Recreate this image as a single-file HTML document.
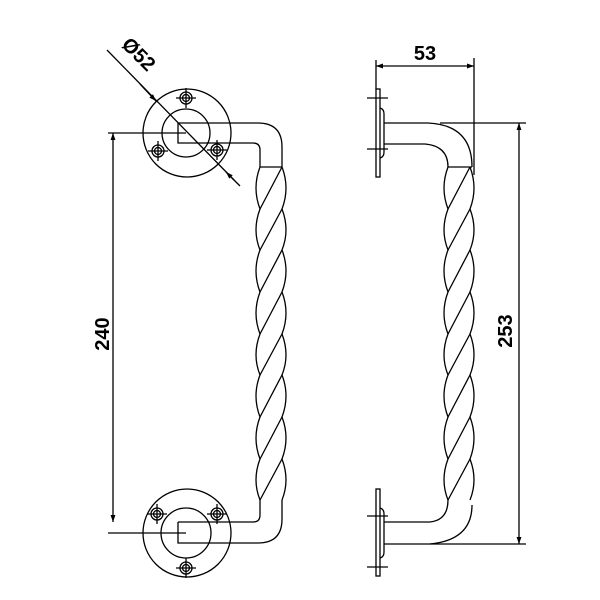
<!DOCTYPE html>
<html><head><style>body{margin:0;background:#fff}svg{display:block}</style></head>
<body>
<svg width="600" height="600" viewBox="0 0 600 600" xmlns="http://www.w3.org/2000/svg" fill="none" stroke="#000" stroke-width="1.3">
<defs>
<marker id="a" viewBox="0 0 10 10" refX="10" refY="5" markerWidth="10" markerHeight="7" orient="auto-start-reverse" markerUnits="userSpaceOnUse"><path d="M0,1.5 L10,5 L0,8.5 Z" fill="#000" stroke="none"/></marker>
<g id="hole"><circle r="6"/><circle r="3.5"/><line x1="-10" y1="0" x2="10" y2="0"/><line x1="0" y1="-10" x2="0" y2="10"/></g>
</defs>
<!-- LEFT VIEW -->
<circle cx="187" cy="133" r="44"/><circle cx="186" cy="133" r="24"/>
<use href="#hole" x="186" y="98"/><use href="#hole" x="158" y="151"/><use href="#hole" x="217" y="150"/>
<path d="M178,123 H258 Q282,123 282,147 V167 M178,123 V143 H253 Q260,143 260,150 V167 M260,167 H282"/>
<circle cx="187" cy="533" r="44"/><circle cx="186" cy="533" r="25"/>
<use href="#hole" x="157" y="514"/><use href="#hole" x="217" y="514"/><use href="#hole" x="186" y="568"/>
<path d="M178,522 H253 Q260,522 260,515 V500 M178,522 V543 H258 Q282,543 282,519 V500"/>
<g id="tw">
<path d="M260,167 Q252,188 260,209 Q252,230 260,250 Q252,271 260,292 Q252,313 260,334 Q252,355 260,375 Q252,396 260,417 Q252,438 260,459 Q252,480 260,500"/>
<path d="M282,167 Q290,188 282,209 Q290,230 282,250 Q290,271 282,292 Q290,313 282,334 Q290,355 282,375 Q290,396 282,417 Q290,438 282,459 Q290,480 282,500"/>
<path d="M282,167 L260,209 M282,209 L260,250 M282,250 L260,292 M282,292 L260,334 M282,334 L260,375 M282,375 L260,417 M282,417 L260,459 M282,459 L260,500"/>
</g>
<!-- 240 dim -->
<path d="M108,133 H186 M108,533 H186"/>
<line x1="113" y1="522" x2="113" y2="133" marker-start="url(#a)" marker-end="url(#a)"/>
<text transform="translate(109,334) rotate(-90)" text-anchor="middle" font-family="Liberation Sans, sans-serif" font-weight="bold" font-size="20" fill="#000" stroke="none">240</text>
<!-- Ø52 -->
<line x1="107" y1="50" x2="234" y2="180"/>
<line x1="140" y1="84" x2="156" y2="101" marker-end="url(#a)"/>
<line x1="240" y1="186" x2="226" y2="172" marker-end="url(#a)"/>
<text transform="translate(134,59) rotate(45)" text-anchor="middle" font-family="Liberation Sans, sans-serif" font-weight="bold" font-size="20" fill="#000" stroke="none">Ø52</text>
<!-- RIGHT VIEW -->
<rect x="376" y="89" width="4" height="88"/>
<path d="M380,108 Q384,109 384,114 V152 Q384,157 380,158"/>
<path d="M367,98 H388 M367,149 H388"/>
<path d="M384,123 H428 Q472,125 472,167 M384,144 H425 Q448,146 448,167 M448,167 H472"/>
<rect x="376" y="489" width="4" height="87"/>
<path d="M380,508 Q384,509 384,514 V552 Q384,557 380,558"/>
<path d="M367,516 H388 M367,567 H388"/>
<path d="M384,522 H430 Q448,520 448,500 M384,544 H430 Q472,540 472,505"/>
<use href="#tw" transform="translate(188,0)"/>
<!-- 53 dim -->
<path d="M376,60 V89 M474,58 V175"/>
<line x1="376" y1="66" x2="474" y2="66" marker-start="url(#a)" marker-end="url(#a)"/>
<text x="425" y="60" text-anchor="middle" font-family="Liberation Sans, sans-serif" font-weight="bold" font-size="20" fill="#000" stroke="none">53</text>
<!-- 253 dim -->
<path d="M440,123 H526 M430,544 H526"/>
<line x1="519" y1="123" x2="519" y2="544" marker-start="url(#a)" marker-end="url(#a)"/>
<text transform="translate(512,331) rotate(-90)" text-anchor="middle" font-family="Liberation Sans, sans-serif" font-weight="bold" font-size="20" fill="#000" stroke="none">253</text>
</svg>
</body></html>
